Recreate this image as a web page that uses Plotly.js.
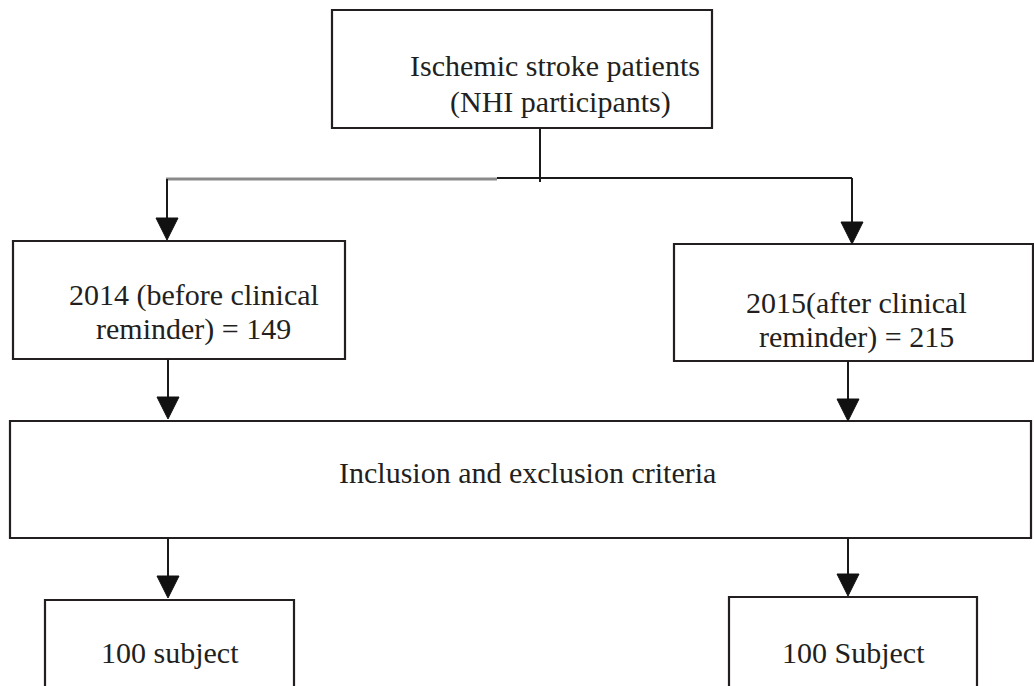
<!DOCTYPE html>
<html><head><meta charset="utf-8">
<script src="https://cdn.plot.ly/plotly-3.0.1.min.js"></script>
<style>html,body{margin:0;padding:0;background:#fff}#c{width:1034px;height:686px}</style>
</head><body><div id="c"></div>
<script>
// Node texts (one entry per box)
const nodeLines = [
  ["Ischemic stroke patients", "(NHI participants)"],
  ["2014 (before clinical", "reminder) = 149"],
  ["2015(after clinical", "reminder) = 215"],
  ["Inclusion and exclusion criteria"],
  ["100 subject"],
  ["100 Subject"]
];
// Layout geometry of boxes (pixel-like data coordinates): x0, x1, y0, y1
const boxX0 = [332, 13, 674, 10, 45, 729];
const boxX1 = [712, 345, 1033, 1031, 294, 977];
const boxY0 = [10, 241, 244, 421, 600, 597];
const boxY1 = [128, 359, 361, 538, 720, 720];
// Text anchor positions per line
const textX = [[555, 560], [194, 193], [856, 856], [527], [170], [853]];
const textY = [[65, 102], [295, 329], [303, 337], [472], [652], [652]];

// Connector segments
const segX0 = [540, 166, 497, 167, 852, 168, 848, 168, 848];
const segY0 = [129, 179, 178, 179, 178, 359, 361, 538, 538];
const segX1 = [540, 497, 852, 167, 852, 168, 848, 168, 848];
const segY1 = [182, 179, 178, 222, 226, 400, 402, 580, 580];
const segCol = ["#1a1a1a", "#8a8a8a", "#1a1a1a", "#1a1a1a", "#1a1a1a", "#1a1a1a", "#1a1a1a", "#1a1a1a", "#1a1a1a"];
const segW = [2, 3, 2, 2, 2, 2, 2, 2, 2];
// Arrowhead tips (x, y)
const tipX = [167, 852, 168, 848, 168, 848];
const tipY = [240, 244, 419, 421, 598, 596];

const shapes = [];
for (let i = 0; i < boxX0.length; i++) {
  shapes.push({type: "rect", xref: "x", yref: "y", x0: boxX0[i], x1: boxX1[i], y0: boxY0[i], y1: boxY1[i],
    line: {color: "#231f20", width: 2.2}, fillcolor: "rgba(0,0,0,0)"});
}
for (let i = 0; i < segX0.length; i++) {
  shapes.push({type: "line", xref: "x", yref: "y", x0: segX0[i], y0: segY0[i], x1: segX1[i], y1: segY1[i],
    line: {color: segCol[i], width: segW[i]}});
}
const hw = 11, hh = 22;
for (let i = 0; i < tipX.length; i++) {
  const x = tipX[i], y = tipY[i];
  shapes.push({type: "path", xref: "x", yref: "y",
    path: `M ${x - hw} ${y - hh} L ${x + hw} ${y - hh} L ${x} ${y} Z`,
    fillcolor: "#111", line: {color: "#111", width: 1}});
}
const annotations = [];
for (let i = 0; i < nodeLines.length; i++) {
  nodeLines[i].forEach((t, j) => {
    annotations.push({x: textX[i][j], y: textY[i][j], xref: "x", yref: "y", text: t, showarrow: false,
      xanchor: "center", yanchor: "middle",
      font: {family: "Liberation Serif, Times New Roman, serif", size: 30, color: "#231f20"}});
  });
}
const layout = {
  width: 1034, height: 686, margin: {l: 0, r: 0, t: 0, b: 0},
  paper_bgcolor: "#fff", plot_bgcolor: "#fff",
  xaxis: {range: [0, 1034], visible: false, fixedrange: true},
  yaxis: {range: [686, 0], visible: false, fixedrange: true},
  shapes: shapes, annotations: annotations, showlegend: false
};
Plotly.newPlot("c", [{x: [], y: [], type: "scatter", hoverinfo: "skip"}], layout, {staticPlot: true, displayModeBar: false});
</script></body></html>
